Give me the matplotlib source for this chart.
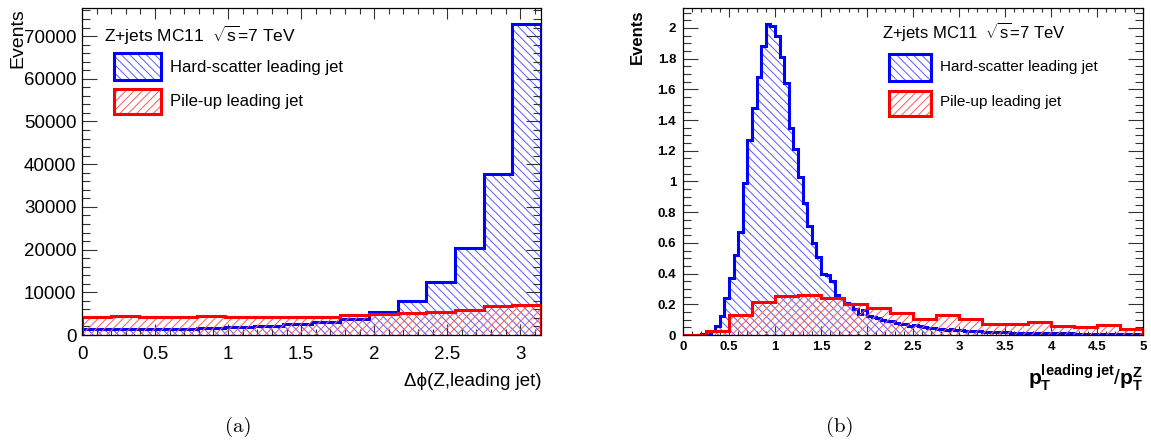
import numpy as np
import matplotlib
matplotlib.use("Agg")
import matplotlib.pyplot as plt
from matplotlib.ticker import MultipleLocator
from matplotlib.patches import Rectangle

# ---------------- data ----------------
# (a) delta phi(Z, leading jet): 16 bins on [0, pi]
dphi_edges = np.linspace(0.0, np.pi, 17)
dphi_hard = [1460, 1460, 1460, 1500, 1690, 1920, 2070, 2460,
             3000, 3840, 5400, 8000, 12300, 20400, 37800, 72900]
dphi_pileup = [4150, 4450, 4300, 4150, 4380, 4300, 4300, 4300,
               4300, 4690, 5000, 5070, 5380, 5910, 6680, 7140]
dphi_xticks = [0, 0.5, 1, 1.5, 2, 2.5, 3]
dphi_xticklabels = ["0", "0.5", "1", "1.5", "2", "2.5", "3"]
dphi_yticks = [0, 10000, 20000, 30000, 40000, 50000, 60000, 70000]
dphi_yticklabels = ["0", "10000", "20000", "30000", "40000", "50000", "60000", "70000"]

# (b) pT(leading jet)/pT(Z)
ratio_hard_edges = np.linspace(0.0, 5.0, 101)
ratio_hard = [0.0, 0.0, 0.0, 0.002, 0.004,
              0.010, 0.026, 0.058, 0.127, 0.24,
              0.37, 0.52, 0.67, 0.99, 1.27,
              1.48, 1.68, 1.88, 2.026, 2.01,
              1.95, 1.81, 1.64, 1.35, 1.21,
              1.03, 0.86, 0.71, 0.60, 0.51,
              0.40, 0.39, 0.35, 0.26, 0.24,
              0.21, 0.20, 0.17, 0.14, 0.165,
              0.125, 0.115, 0.108, 0.100, 0.094,
              0.088, 0.080, 0.074, 0.069, 0.060,
              0.066, 0.056, 0.052, 0.048, 0.046,
              0.040, 0.038, 0.035, 0.036, 0.030,
              0.033, 0.028, 0.027, 0.025, 0.026,
              0.022, 0.021, 0.020, 0.019, 0.018,
              0.017, 0.016, 0.016, 0.015, 0.014,
              0.014, 0.013, 0.012, 0.013, 0.011,
              0.011, 0.010, 0.010, 0.009, 0.010,
              0.009, 0.008, 0.008, 0.009, 0.007,
              0.007, 0.007, 0.006, 0.007, 0.006,
              0.006, 0.005, 0.006, 0.005, 0.005]
ratio_pileup_edges = np.linspace(0.0, 5.0, 21)
ratio_pileup = [0.003, 0.026, 0.13, 0.214, 0.255, 0.262, 0.24, 0.202, 0.179, 0.145,
                0.106, 0.129, 0.106, 0.074, 0.070, 0.084, 0.061, 0.050, 0.065, 0.037]
ratio_xticks = [0, 0.5, 1, 1.5, 2, 2.5, 3, 3.5, 4, 4.5, 5]
ratio_xticklabels = ["0", "0.5", "1", "1.5", "2", "2.5", "3", "3.5", "4", "4.5", "5"]
ratio_yticks = [0, 0.2, 0.4, 0.6, 0.8, 1.0, 1.2, 1.4, 1.6, 1.8, 2.0]
ratio_yticklabels = ["0", "0.2", "0.4", "0.6", "0.8", "1", "1.2", "1.4", "1.6", "1.8", "2"]

label_hard = "Hard-scatter leading jet"
label_pileup = "Pile-up leading jet"
header = r"Z+jets MC11  $\sqrt{\mathrm{s}}$=7 TeV"

# ---------------- style ----------------
plt.rcParams["font.family"] = ["Liberation Sans", "DejaVu Sans"]
plt.rcParams["mathtext.fontset"] = "custom"
plt.rcParams["mathtext.rm"] = "Liberation Sans"
plt.rcParams["mathtext.it"] = "Liberation Sans:italic"
plt.rcParams["mathtext.bf"] = "Liberation Sans:bold"
plt.rcParams["hatch.linewidth"] = 0.7

BLUE = "#0000ff"
RED = "#ff0000"
BLUE_H = "#5a5aff"
RED_H = "#ff5a5a"
HATCH_B = "\\\\\\\\"
HATCH_R = "////"

W, H = 1151, 442
fig = plt.figure(figsize=(W / 100, H / 100), dpi=100)
fig.patch.set_facecolor("white")


def px_axes(x0, x1, ytop, ybot):
    return fig.add_axes([x0 / W, 1 - ybot / H, (x1 - x0) / W, (ybot - ytop) / H])


def draw_hist(ax, edges, vals, color, hcolor, hatch, z):
    ax.stairs(vals, edges, fill=True, facecolor="none", edgecolor=hcolor,
              hatch=hatch, linewidth=0, zorder=z)
    ax.stairs(vals, edges, fill=False, color=color, linewidth=2.2,
              baseline=0, zorder=z + 0.1)


def style_ticks(ax, xmaj=6.5, xmin=3.2):
    ax.tick_params(axis="both", which="both", direction="in", top=True, right=True,
                   width=0.8, color="#333333")
    ax.tick_params(axis="x", which="major", length=xmaj)
    ax.tick_params(axis="x", which="minor", length=xmin)
    ax.tick_params(axis="y", which="major", length=10.5)
    ax.tick_params(axis="y", which="minor", length=5.5)
    for s in ax.spines.values():
        s.set_linewidth(0.9)


def legend_box(ax, x0, x1, y0, y1, color, hcolor, hatch):
    ax.add_patch(Rectangle((x0, y0), x1 - x0, y1 - y0, transform=ax.transAxes,
                           facecolor="none", edgecolor=hcolor, hatch=hatch,
                           linewidth=0, zorder=5))
    ax.add_patch(Rectangle((x0, y0), x1 - x0, y1 - y0, transform=ax.transAxes,
                           facecolor="none", edgecolor=color, linewidth=2.2, zorder=5.1))


# ---------------- panel (a) ----------------
axA = px_axes(82, 541, 8.3, 335)
draw_hist(axA, dphi_edges, dphi_hard, BLUE, BLUE_H, HATCH_B, 1)
draw_hist(axA, dphi_edges, dphi_pileup, RED, RED_H, HATCH_R, 2)
axA.set_xlim(0, np.pi)
axA.set_ylim(0, 76500)
axA.set_xticks(dphi_xticks, dphi_xticklabels, fontsize=13.5)
axA.set_yticks(dphi_yticks, dphi_yticklabels, fontsize=13.5)
axA.xaxis.set_minor_locator(MultipleLocator(0.1))
axA.yaxis.set_minor_locator(MultipleLocator(2000))
style_ticks(axA, xmaj=8, xmin=4)
axA.tick_params(axis="x", which="major", pad=8)
axA.tick_params(axis="y", which="major", pad=4)

axA.text(0.048, 0.918, header, transform=axA.transAxes, fontsize=12.5,
         ha="left", va="center")
legend_box(axA, 0.0697, 0.172, 0.7805, 0.863, BLUE, BLUE_H, HATCH_B)
legend_box(axA, 0.0697, 0.172, 0.6765, 0.753, RED, RED_H, HATCH_R)
axA.text(0.1917, 0.820, label_hard, transform=axA.transAxes, fontsize=12,
         ha="left", va="center")
axA.text(0.1917, 0.716, label_pileup, transform=axA.transAxes, fontsize=12,
         ha="left", va="center")

fig.text(17.5 / W, 1 - 8 / H, "Events", rotation=90, ha="center", va="top",
         fontsize=14)
fig.text(541 / W, 1 - 381 / H, "\u0394\u03d5(Z,leading jet)", ha="right", va="center",
         fontsize=13.5)
fig.text(238 / W, 1 - 427 / H, "(a)", ha="center", va="center", fontsize=15,
         family="cmr10")

# ---------------- panel (b) ----------------
axB = px_axes(683, 1143, 8.5, 335)
draw_hist(axB, ratio_hard_edges, ratio_hard, BLUE, BLUE_H, HATCH_B, 1)
draw_hist(axB, ratio_pileup_edges, ratio_pileup, RED, RED_H, HATCH_R, 2)
axB.set_xlim(0, 5)
axB.set_ylim(0, 2.127)
axB.set_xticks(ratio_xticks, ratio_xticklabels, fontsize=9.5, fontweight="bold")
axB.set_yticks(ratio_yticks, ratio_yticklabels, fontsize=9.5, fontweight="bold")
axB.xaxis.set_minor_locator(MultipleLocator(0.1))
axB.yaxis.set_minor_locator(MultipleLocator(0.05))
style_ticks(axB)
axB.tick_params(axis="x", which="major", pad=4.5)
axB.tick_params(axis="y", which="major", pad=5)

axB.text(0.433, 0.930, header, transform=axB.transAxes, fontsize=12,
         ha="left", va="center")
legend_box(axB, 0.448, 0.539, 0.777, 0.860, BLUE, BLUE_H, HATCH_B)
legend_box(axB, 0.448, 0.539, 0.670, 0.748, RED, RED_H, HATCH_R)
axB.text(0.559, 0.820, label_hard, transform=axB.transAxes, fontsize=11,
         ha="left", va="center")
axB.text(0.559, 0.713, label_pileup, transform=axB.transAxes, fontsize=11,
         ha="left", va="center")

fig.text(637 / W, 1 - 10 / H, "Events", rotation=90, ha="center", va="top",
         fontsize=12, fontweight="bold")
fig.text(1143 / W, 1 - 378 / H,
         r"$\mathbf{p}_{\mathbf{T}}^{\mathbf{leading\ jet}}/\mathbf{p}_{\mathbf{T}}^{\mathbf{Z}}$",
         ha="right", va="center", fontsize=15)
fig.text(840 / W, 1 - 427 / H, "(b)", ha="center", va="center", fontsize=15,
         family="cmr10")

fig.savefig("out.png", dpi=100, facecolor="white")
